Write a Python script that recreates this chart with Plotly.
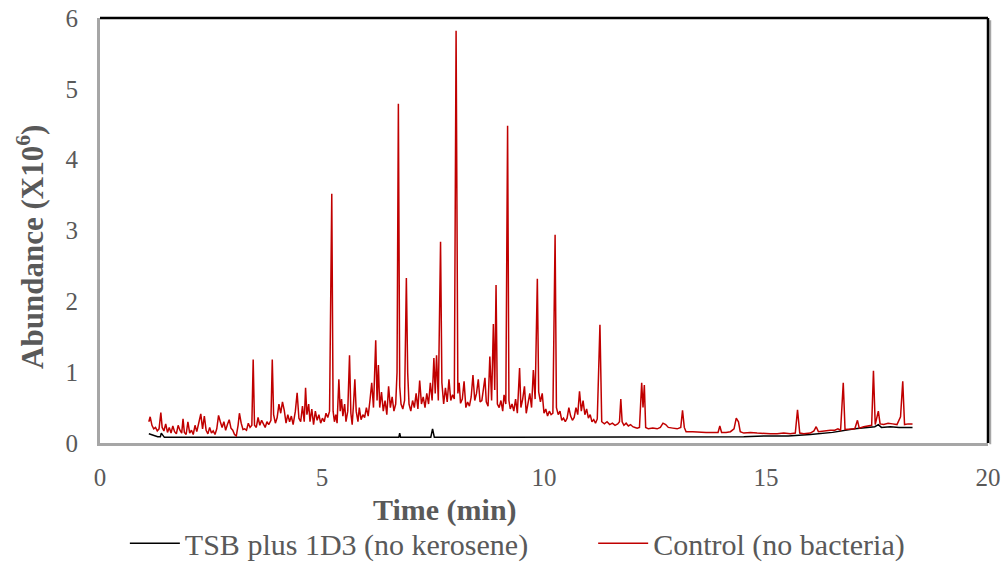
import plotly.graph_objects as go

# Control (no bacteria) - red trace
control_time = [
    1.10, 1.13, 1.17, 1.21, 1.25, 1.29, 1.33, 1.37, 1.40, 1.44,
    1.48, 1.52, 1.56, 1.60, 1.64, 1.68, 1.72, 1.76, 1.80, 1.84,
    1.87, 1.90, 1.94, 1.98, 2.02, 2.06, 2.10, 2.14, 2.18, 2.22,
    2.27, 2.31, 2.35, 2.39, 2.43, 2.47, 2.51, 2.55, 2.59, 2.63,
    2.67, 2.71, 2.75, 2.79, 2.83, 2.87, 2.91, 2.95, 2.99, 3.03,
    3.07, 3.11, 3.14, 3.18, 3.22, 3.26, 3.30, 3.34, 3.38, 3.42,
    3.45, 3.48, 3.52, 3.56, 3.60, 3.64, 3.68, 3.72, 3.76, 3.80,
    3.85, 3.88, 3.91, 3.95, 3.99, 4.03, 4.07, 4.11, 4.15, 4.19,
    4.23, 4.27, 4.31, 4.35, 4.40, 4.44, 4.48, 4.52, 4.56, 4.60,
    4.63, 4.66, 4.70, 4.73, 4.77, 4.81, 4.85, 4.89, 4.93, 4.97,
    5.01, 5.05, 5.09, 5.13, 5.17, 5.22, 5.25, 5.28, 5.31, 5.34,
    5.38, 5.41, 5.44, 5.47, 5.51, 5.54, 5.58, 5.62, 5.65, 5.68,
    5.71, 5.74, 5.77, 5.81, 5.84, 5.88, 5.92, 5.96, 6.00, 6.04,
    6.08, 6.12, 6.16, 6.21, 6.24, 6.27, 6.30, 6.34, 6.38, 6.42,
    6.46, 6.50, 6.54, 6.58, 6.62, 6.66, 6.69, 6.72, 6.75, 6.78,
    6.82, 6.86, 6.90, 6.93, 6.96, 7.00, 7.04, 7.08, 7.12, 7.16,
    7.20, 7.24, 7.28, 7.32, 7.36, 7.40, 7.44, 7.48, 7.52, 7.55,
    7.58, 7.62, 7.67, 7.70, 7.74, 7.78, 7.82, 7.86, 7.90, 7.94,
    7.98, 8.02, 8.06, 8.09, 8.12, 8.16, 8.20, 8.24, 8.28, 8.32,
    8.36, 8.40, 8.44, 8.48, 8.52, 8.56, 8.60, 8.64, 8.67, 8.70,
    8.74, 8.78, 8.82, 8.86, 8.89, 8.92, 8.95, 8.99, 9.03, 9.07,
    9.10, 9.14, 9.18, 9.21, 9.24, 9.28, 9.32, 9.36, 9.40, 9.45,
    9.48, 9.52, 9.56, 9.60, 9.64, 9.68, 9.72, 9.76, 9.80, 9.85,
    9.88, 9.92, 9.96, 10.00, 10.04, 10.08, 10.12, 10.16, 10.20, 10.25,
    10.28, 10.32, 10.36, 10.40, 10.44, 10.48, 10.52, 10.56, 10.60, 10.64,
    10.68, 10.72, 10.76, 10.80, 10.84, 10.88, 10.92, 10.96, 11.00, 11.04,
    11.08, 11.12, 11.16, 11.20, 11.26, 11.30, 11.36, 11.42, 11.48, 11.54,
    11.60, 11.66, 11.70, 11.73, 11.76, 11.80, 11.85, 11.90, 11.95, 12.00,
    12.05, 12.10, 12.15, 12.20, 12.23, 12.26, 12.29, 12.35, 12.45, 12.55,
    12.62, 12.68, 12.74, 12.80, 12.90, 13.00, 13.08, 13.12, 13.16, 13.20,
    13.35, 13.50, 13.65, 13.80, 13.92, 13.96, 14.00, 14.10, 14.20, 14.28,
    14.33, 14.38, 14.42, 14.50, 14.65, 14.80, 14.95, 15.10, 15.25, 15.40,
    15.55, 15.66, 15.71, 15.76, 15.85, 16.00, 16.08, 16.13, 16.18, 16.30,
    16.45, 16.55, 16.62, 16.68, 16.74, 16.78, 16.90, 17.00, 17.06, 17.10,
    17.20, 17.30, 17.38, 17.42, 17.46, 17.53, 17.57, 17.65, 17.75, 17.85,
    17.95, 18.03, 18.08, 18.12, 18.20, 18.30,
]
control_abund = [
    0.30, 0.37, 0.25, 0.20, 0.22, 0.17, 0.20, 0.43, 0.22, 0.17,
    0.27, 0.15, 0.22, 0.14, 0.24, 0.16, 0.13, 0.25, 0.18, 0.14,
    0.34, 0.15, 0.12, 0.30, 0.14, 0.18, 0.12, 0.25, 0.16, 0.28,
    0.41, 0.20, 0.38, 0.18, 0.13, 0.22, 0.14, 0.17, 0.12, 0.20,
    0.39, 0.30, 0.22, 0.30, 0.18, 0.26, 0.33, 0.21, 0.18, 0.12,
    0.10, 0.25, 0.42, 0.28, 0.19, 0.20, 0.18, 0.28, 0.22, 0.25,
    1.18, 0.25, 0.22, 0.36, 0.25, 0.32, 0.28, 0.22, 0.30, 0.26,
    0.32, 1.18, 0.40, 0.28, 0.36, 0.55, 0.42, 0.58, 0.46, 0.28,
    0.40, 0.30, 0.38, 0.26, 0.45, 0.71, 0.35, 0.30, 0.52, 0.30,
    0.78, 0.40, 0.55, 0.30, 0.48, 0.26, 0.45, 0.32, 0.40, 0.28,
    0.35, 0.30, 0.42, 0.36, 0.45, 3.52, 0.45, 0.30, 0.40, 0.28,
    0.90, 0.45, 0.62, 0.38, 0.55, 0.30, 0.45, 1.24, 0.42, 0.26,
    0.55, 0.90, 0.45, 0.30, 0.50, 0.33, 0.40, 0.36, 0.50, 0.38,
    0.60, 0.85, 0.50, 1.45, 0.60, 1.10, 0.50, 0.72, 0.45, 0.60,
    0.40, 0.80, 0.50, 0.65, 0.45, 0.55, 1.00, 4.79, 0.80, 0.55,
    0.48, 0.60, 2.33, 0.99, 0.55, 0.45, 0.60, 0.50, 0.70, 0.48,
    0.88, 0.55, 0.65, 0.50, 0.70, 0.55, 0.85, 0.60, 1.20, 0.70,
    1.24, 0.60, 2.84, 0.85, 0.55, 0.78, 0.58, 0.90, 0.60, 0.68,
    0.62, 5.82, 0.70, 0.85, 0.56, 0.62, 0.87, 0.50, 0.58, 0.52,
    0.65, 0.96, 0.60, 0.70, 0.90, 0.58, 0.60, 0.80, 0.92, 0.58,
    0.52, 1.22, 0.60, 1.68, 0.75, 2.23, 0.55, 0.50, 0.60, 0.45,
    0.68, 0.55, 4.48, 0.60, 0.48, 0.55, 0.45, 0.62, 0.42, 1.06,
    0.50, 0.62, 0.80, 0.42, 0.55, 0.70, 0.50, 1.03, 0.62, 2.32,
    0.72, 0.58, 0.70, 0.42, 0.48, 0.38, 0.45, 0.40, 0.42, 2.94,
    0.50, 0.40, 0.45, 0.32, 0.35, 0.30, 0.35, 0.50, 0.38, 0.32,
    0.36, 0.50, 0.40, 0.73, 0.45, 0.60, 0.40, 0.48, 0.35, 0.40,
    0.30, 0.33, 0.28, 0.34, 1.67, 0.30, 0.27, 0.30, 0.26, 0.28,
    0.25, 0.27, 0.30, 0.62, 0.30, 0.25, 0.28, 0.24, 0.26, 0.23,
    0.22, 0.21, 0.22, 0.85, 0.50, 0.82, 0.22, 0.20, 0.21, 0.20,
    0.22, 0.28, 0.26, 0.22, 0.21, 0.20, 0.22, 0.46, 0.22, 0.16,
    0.16, 0.15, 0.15, 0.15, 0.15, 0.24, 0.15, 0.15, 0.16, 0.20,
    0.35, 0.30, 0.16, 0.14, 0.15, 0.14, 0.13, 0.13, 0.13, 0.14,
    0.13, 0.14, 0.47, 0.14, 0.13, 0.14, 0.17, 0.23, 0.16, 0.17,
    0.18, 0.18, 0.20, 0.18, 0.85, 0.19, 0.19, 0.20, 0.32, 0.21,
    0.23, 0.24, 0.25, 1.02, 0.26, 0.45, 0.27, 0.26, 0.28, 0.27,
    0.26, 0.37, 0.87, 0.26, 0.27, 0.27,
]

# TSB plus 1D3 (no kerosene) - black trace
tsb_time = [
    1.10, 1.20, 1.30, 1.36, 1.38, 1.45, 1.60, 1.80, 2.20, 2.60,
    3.00, 3.50, 4.00, 4.50, 5.00, 5.50, 6.00, 6.50, 6.73, 6.75,
    6.77, 7.00, 7.45, 7.49, 7.53, 8.00, 8.50, 9.00, 9.50, 10.00,
    10.50, 11.00, 11.50, 12.00, 12.50, 13.00, 13.50, 14.00, 14.50, 15.00,
    15.50, 16.00, 16.50, 17.00, 17.30, 17.45, 17.53, 17.60, 17.80, 18.00,
    18.30,
]
tsb_abund = [
    0.13, 0.11, 0.09, 0.09, 0.14, 0.08, 0.08, 0.07, 0.07, 0.07,
    0.07, 0.08, 0.08, 0.08, 0.08, 0.08, 0.08, 0.08, 0.08, 0.14,
    0.08, 0.08, 0.08, 0.20, 0.08, 0.08, 0.08, 0.08, 0.08, 0.08,
    0.08, 0.08, 0.08, 0.08, 0.08, 0.08, 0.08, 0.08, 0.09, 0.10,
    0.10, 0.12, 0.15, 0.20, 0.22, 0.23, 0.26, 0.22, 0.23, 0.22,
    0.22,
]

series_names = ["TSB plus 1D3 (no kerosene)", "Control (no bacteria)"]
x_title = "<b>Time (min)</b>"
y_title = "<b>Abundance (X10<sup>6</sup>)</b>"
x_ticks = [0, 5, 10, 15, 20]
y_ticks = [0, 1, 2, 3, 4, 5, 6]

FONT = "Liberation Serif"
GREY = "#595959"
PAD = "\u00a0" * 8

fig = go.Figure()
fig.add_trace(go.Scatter(
    x=tsb_time, y=tsb_abund, mode="lines",
    name=series_names[0] + PAD,
    line=dict(color="#000000", width=1.5),
))
fig.add_trace(go.Scatter(
    x=control_time, y=control_abund, mode="lines",
    name=series_names[1],
    line=dict(color="#c00000", width=1.5),
))

fig.update_layout(
    width=1002, height=563,
    margin=dict(l=100, r=14, t=18, b=120, autoexpand=False),
    paper_bgcolor="white", plot_bgcolor="white",
    font=dict(family=FONT, color=GREY, size=25),
    showlegend=True,
    legend=dict(
        orientation="h", x=0.47, xanchor="center", y=-0.236, yanchor="middle",
        font=dict(family=FONT, size=30, color=GREY),
        itemwidth=50,
        bgcolor="rgba(0,0,0,0)",
    ),
    xaxis=dict(
        range=[0, 20], tickvals=x_ticks, ticktext=[str(v) for v in x_ticks],
        showgrid=False, zeroline=False, automargin=False,
        showline=True, linecolor="#a6a6a6", linewidth=3,
        ticks="", ticklabelstandoff=10,
        tickfont=dict(family=FONT, size=25, color=GREY),
    ),
    yaxis=dict(
        range=[0, 6], tickvals=y_ticks, ticktext=[str(v) for v in y_ticks],
        showgrid=False, zeroline=False, automargin=False,
        showline=True, linecolor="#a6a6a6", linewidth=3,
        ticks="", ticklabelstandoff=14,
        tickfont=dict(family=FONT, size=25, color=GREY),
    ),
    annotations=[
        dict(text=x_title, xref="paper", yref="paper", x=0.389, y=-0.158,
             xanchor="center", yanchor="middle", showarrow=False,
             font=dict(family=FONT, size=30, color=GREY)),
        dict(text=y_title, xref="paper", yref="paper", x=-0.079, y=0.461,
             xanchor="center", yanchor="middle", showarrow=False, textangle=-90,
             font=dict(family=FONT, size=31, color=GREY)),
    ],
    shapes=[
        dict(type="line", xref="paper", yref="paper", x0=0, x1=1, y0=1, y1=1,
             line=dict(color="#000000", width=2.5)),
        dict(type="line", xref="paper", yref="paper", x0=1.0025, x1=1.0025,
             y0=-0.003, y1=0.995, line=dict(color="#a6a6a6", width=2)),
        dict(type="line", xref="paper", yref="paper", x0=1, x1=1, y0=0, y1=1,
             line=dict(color="#000000", width=2.5)),
    ],
)

fig.write_html("out.html")
